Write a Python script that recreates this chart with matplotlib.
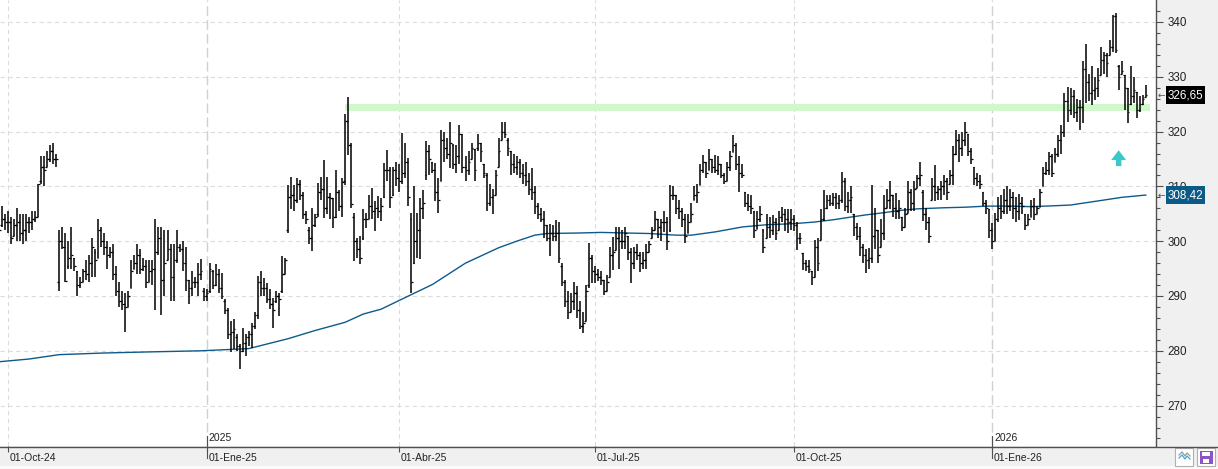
import numpy as np
import pandas as pd
import matplotlib
matplotlib.use("Agg")
import matplotlib.pyplot as plt
import matplotlib.transforms as mtransforms
from matplotlib.collections import LineCollection
from matplotlib.patches import Rectangle, Polygon
from matplotlib.lines import Line2D

plt.rcParams["font.family"] = ["Liberation Sans", "DejaVu Sans"]

# daily bars, first bar on 2024-09-26 (business days)
start_date = "2024-09-26"

high = [
    304.5, 306.5, 305, 305.5, 304.5, 304, 306, 305, 305, 305,
    304.5, 305.5, 305.5, 310.5, 315.5, 315.5, 316.5, 317.5, 318, 316,
    302, 302.5, 301.5, 300, 302.5, 297, 294.5, 293.5, 295, 296.5,
    297.5, 300.5, 298.5, 304, 302.5, 301.5, 300, 299, 299.5, 295.5,
    292.5, 291, 290.5, 291, 296.5, 297.5, 299.5, 298.5, 297, 296.5,
    296.5, 296.5, 304, 302.5, 302.5, 302, 302, 299.5, 299.5, 302,
    299.5, 300, 299, 293, 294.5, 293.5, 296, 296.7, 291.5, 291.2,
    296, 294.8, 295.8, 295, 294.2, 289.4, 287.9, 285.5, 285.8, 283,
    281.2, 284.2, 283, 283.6, 285, 287, 293.6, 294.5, 293.3, 292.4,
    291.2, 289.7, 290.9, 290.6, 297.3, 297, 310.3, 311.8, 310.3, 311.5,
    311.2, 309, 305.5, 302.5, 306, 305, 310.6, 311.8, 314.8, 311.8,
    308.8, 307.9, 313, 309.4, 311.5, 323.3, 326.4, 317.9, 305.2, 300.6,
    300.9, 305.8, 305.2, 308.5, 309.7, 307.3, 308.2, 307.9, 314.2, 316.7,
    313.6, 313.6, 314.5, 314, 319.7, 318, 315.2, 305.2, 310, 305.2,
    307.9, 309.4, 318.2, 317.5, 314.5, 314.2, 311.5, 320.3, 320, 318.8,
    321.8, 317.8, 317.5, 321.2, 319.5, 315.5, 316.5, 318, 316.9, 319.5,
    318, 314, 312.4, 310.5, 309.5, 313, 318.8, 321.8, 321.8, 318.8,
    316.5, 316, 315.5, 315, 314, 314.5, 312.5, 313.3, 310, 307,
    306, 305.5, 303, 303.2, 303, 303.9, 303.5, 296, 293, 290.9,
    290.5, 292.5, 291.8, 289, 287, 292, 299.7, 297.5, 295.5, 295,
    294.5, 293, 293.8, 299, 300.8, 302.6, 302.6, 302, 302.5, 301,
    298.7, 299, 299.5, 298.1, 298, 299.5, 300, 302.5, 305.6, 304,
    304, 305.5, 304.5, 310.2, 310, 308.5, 307.5, 306, 305, 305,
    307, 310, 310.5, 314.1, 315.8, 314.5, 316.8, 315, 315.8, 315.5,
    314, 312.5, 314.5, 316.5, 319.3, 318, 315.5, 314, 309, 308.7,
    308.5, 305.6, 305.5, 306.4, 302.3, 305, 304.5, 304.8, 304.2, 305.5,
    306.2, 305.9, 305.9, 305.9, 304.7, 303.5, 301.5, 297.8, 296.5, 296.5,
    294.5, 300.3, 300.5, 305.8, 309.4, 308.5, 308.5, 308.8, 308.8, 308.5,
    312.7, 311.5, 309, 310, 305, 303.3, 302.5, 299.5, 298.5, 298.8,
    310.3, 306, 302, 304, 308.5, 309.5, 310.9, 308.5, 308.8, 307.5,
    304.5, 306, 310.9, 309.5, 311, 312.1, 314.5, 309.4, 306, 304.5,
    311.5, 313.9, 310, 311, 312, 311.5, 313, 317.3, 320.3, 319.5,
    320, 321.8, 319.5, 317, 313.6, 312.5, 312, 309, 307.5, 305.8,
    303.3, 305.2, 308, 308.5, 309.5, 310, 309.5, 309, 308, 308.7,
    308, 305, 305, 307.5, 307.8, 306.5, 309.6, 313.6, 314.5, 316.3,
    316, 317, 319.4, 321.2, 327, 328.2, 327.9, 327.6, 326, 325.8,
    332.8, 335.9, 330.5, 331.9, 330, 331.6, 335.5, 334.5, 334.3, 336.8,
    341.3, 341.6, 332.2, 332.8, 330.4, 327.9, 331.9, 330, 327.3, 326.5,
    326.7, 328.5,
]

low = [
    300.5, 302.5, 302, 301.5, 299.5, 301, 300, 300, 299.5, 300,
    301.5, 302, 303.5, 304.5, 310.5, 310, 313.5, 314.5, 314, 313.5,
    291, 298.5, 292.5, 295, 295, 294.5, 290, 291.5, 292.5, 293,
    292.5, 293.5, 293.5, 297, 299, 297.5, 295, 297, 293, 290,
    288, 287.5, 283.5, 288, 291.5, 295, 294, 294, 294.5, 291.5,
    292.5, 292, 287.5, 297.5, 286.5, 290, 296.5, 289, 289, 296,
    298, 294.5, 291, 288.5, 290, 291.5, 290, 293, 289, 289,
    290.6, 291.2, 291.8, 290.5, 289.4, 286.7, 282.1, 279.7, 280.3, 280,
    276.7, 279.7, 279.1, 280.8, 280.6, 284, 285.8, 290, 290, 288.8,
    287.6, 284.2, 288.8, 286.4, 290.6, 294, 301.5, 305.8, 305.5, 307,
    307.6, 304, 303.2, 299.4, 298.2, 302.5, 304.5, 307.6, 304.2, 304.9,
    304, 302.4, 304.2, 305.5, 304.5, 310.3, 315.8, 306, 296.4, 297,
    295.8, 300.3, 302.4, 304, 304, 301.8, 304.2, 303.6, 307.9, 310.9,
    306.1, 308.2, 310, 309, 310.5, 311.5, 306.5, 290.6, 295.8, 297,
    296.7, 304, 311.2, 312, 312.5, 307.3, 305.2, 310.9, 314.5, 315,
    313.3, 313.2, 312.5, 314, 312.5, 311, 312, 315, 311, 316.5,
    314.5, 311.5, 305.5, 306.5, 305, 308.5, 313.5, 318.5, 318.8, 315.5,
    312, 312.5, 312, 311.5, 310.5, 310, 308.5, 307.5, 305, 304,
    303.5, 300.5, 300, 297.3, 300, 300, 296, 291.8, 288, 285.8,
    287, 287.5, 286, 284, 283.3, 285.5, 291.5, 292.4, 292.4, 292.8,
    292, 290.2, 291, 293.5, 294.7, 298.4, 295, 298.5, 298.5, 296.5,
    292.3, 295, 296.5, 294.4, 295, 295, 298, 300.5, 302, 300.5,
    300, 301.7, 298.4, 301.7, 307.5, 305, 304, 302.5, 299.6, 301.5,
    303.5, 307.5, 307, 310.2, 312.5, 311.5, 312.9, 312.5, 312.5, 312,
    311.5, 310.5, 311, 312.8, 316.2, 313, 309, 311.5, 306.2, 305.6,
    305, 300.5, 302.3, 303.5, 297.8, 300.5, 300.5, 301.2, 300.3, 302,
    303.5, 301.8, 301.5, 302, 301.8, 298.4, 299.5, 294.7, 294.5, 294.2,
    292, 293.5, 294.5, 300.3, 303.6, 305.8, 306.5, 306.5, 305.8, 305.8,
    307, 305.5, 305.2, 305.2, 301, 300.3, 297.3, 296, 294.2, 295,
    296, 298.5, 296, 299, 300.3, 306, 305.8, 304.5, 304, 304,
    301.8, 302.5, 305.2, 305.5, 305.5, 309.7, 310, 303.6, 302, 299.7,
    307.5, 307.3, 307.5, 307.5, 308.5, 307.5, 310.5, 310.3, 315.8, 314.5,
    315.5, 317.3, 315.5, 314, 310.3, 310, 309.5, 306.5, 305, 300.6,
    298.5, 300, 303.5, 304, 305, 305, 305.5, 304, 303.5, 303.8,
    305, 302, 303, 304.5, 303.8, 305, 306.3, 310, 312.1, 312.1,
    311.8, 314.5, 315.4, 316, 319.1, 321.8, 323, 322.5, 321.8, 320.3,
    321.5, 325.2, 325.5, 324.9, 325.8, 326.4, 330.4, 330.5, 330, 334,
    334.6, 334.3, 327.6, 330.5, 324, 321.5, 324.9, 325.2, 322.4, 323.5,
    324.8, 326.4,
]

open_ = [
    303, 303, 304, 303.5, 303.5, 301, 303, 303.5, 301.5, 302,
    303.5, 303.5, 304, 304.5, 311, 313.5, 313.5, 315, 316.5, 315,
    292.5, 300, 299, 295.5, 297, 297, 294.5, 292, 292.5, 294.5,
    294, 296, 298, 297, 302, 300, 299, 297.5, 298, 294,
    291, 289, 288.5, 288, 291.5, 295, 296, 297.5, 295, 295.5,
    292.5, 294.5, 295, 298, 300.5, 293, 296.5, 298.5, 293.5, 296.5,
    299, 298.5, 296, 293, 291.5, 292.5, 292.5, 294, 291, 290,
    291, 294.5, 292, 294, 291.5, 289, 287.5, 283, 283.5, 282.5,
    280.8, 280, 281.5, 282.5, 283, 284.5, 286.5, 292.5, 291.5, 291.5,
    289.5, 288.5, 289, 290, 291, 294, 302, 308, 308.5, 307.5,
    310.5, 308.5, 305, 302, 300.5, 303, 305, 309, 309.5, 306,
    308, 307.8, 304.5, 309, 306.5, 311, 322, 317.5, 304.5, 300,
    298.5, 300.5, 304, 304, 306.5, 305.5, 306, 305.5, 308, 313,
    313, 308.5, 313, 311.5, 311, 312.5, 314.5, 304, 296, 300,
    302, 306, 312, 316.5, 314.5, 313, 309, 311, 318.5, 317,
    316, 317.5, 314, 315.5, 319.5, 313.5, 313, 315, 316.9, 317,
    318, 314, 312, 307, 308, 308.5, 313.5, 318.5, 320, 318.5,
    316.5, 314, 313.5, 314.5, 312.5, 312, 311, 309.5, 309, 306.5,
    305, 304, 303, 300.5, 301.5, 301, 301.5, 295.5, 292.5, 289,
    287, 289, 290.5, 287.5, 284.5, 285.5, 292, 297, 294.5, 294,
    293.5, 293, 291, 293.5, 297.5, 298.4, 300.5, 300, 300, 301,
    298, 296, 298, 297.5, 296, 296.5, 298, 300.5, 302, 304,
    302.5, 303.5, 303.5, 302, 308.5, 308.5, 306, 305.5, 304, 301.5,
    303.5, 307.5, 308.5, 310.2, 313, 314.5, 312.9, 315, 313.5, 313,
    314, 312, 311, 313.5, 316.2, 317.5, 314, 312.5, 309, 307,
    306.5, 305.6, 302.3, 304, 302, 300.5, 302.5, 302, 303.5, 302,
    304.5, 305, 304, 303.5, 304, 303, 300.5, 297.8, 296, 295.5,
    294.5, 293.5, 299, 300.3, 304, 306, 307.5, 307, 308, 307,
    307.5, 311, 306.5, 307.5, 305, 302.5, 301, 299, 297.5, 296.5,
    297, 301, 302, 299, 301.5, 306, 307.5, 308.5, 306, 305.5,
    304.5, 302.5, 305.2, 309, 307, 309.7, 311.5, 309, 305, 303.5,
    307.5, 310, 309, 309.5, 310, 311, 310.5, 312, 316, 318.5,
    317, 318.5, 319.5, 316.5, 313.6, 311.5, 311, 309, 307, 305.8,
    302, 300, 304, 306, 305.5, 307.5, 306.5, 308, 306, 305.5,
    307, 305, 303, 304.5, 306.5, 305, 306.3, 310, 312.5, 313,
    315.5, 314.5, 316, 318.5, 320, 325.5, 324, 326.5, 323.5, 324.5,
    324.5, 331.5, 329, 327, 327.5, 328, 330.4, 333, 334, 334,
    335.5, 341, 332, 330.5, 330.4, 327.9, 325, 326.5, 327.3, 324,
    325, 326.4,
]

close = [
    302, 304, 303.5, 303.5, 300.5, 303, 303.5, 301.5, 302, 303.5,
    303.5, 304, 304.5, 310.5, 313.5, 313, 315, 316.5, 315, 315,
    300, 299, 292.8, 297, 297.5, 295.5, 292, 292.5, 294.5, 294,
    296, 299, 296.5, 302, 300, 299, 297.5, 298, 294, 291,
    289, 288.5, 288, 290, 294.5, 296, 297.5, 295, 295.5, 292.5,
    294.5, 295, 298, 300.5, 293, 296, 298.5, 293.5, 296.5, 299,
    298.5, 296, 293, 291.5, 292.5, 292.5, 294, 294.5, 290, 290.5,
    295, 292, 294, 291.5, 290, 287.5, 283, 283.5, 284, 280.8,
    280, 281.5, 282.5, 283, 284.5, 286.5, 292.5, 291.5, 291.5, 289.5,
    288.5, 287.5, 290, 289.5, 294, 296.5, 308, 308.5, 307.5, 310.5,
    308.5, 305, 304, 300.5, 303, 304.5, 309, 309.5, 306, 308,
    307.8, 304.5, 309, 306.5, 310.8, 322, 317.5, 306.7, 300, 298.5,
    297, 304, 304, 306.5, 305.5, 306, 305.5, 306.5, 313, 313,
    308, 313, 311.5, 311, 312.5, 314.5, 308, 292.5, 300, 302,
    306, 307, 316.5, 315, 313, 309, 307.5, 318.5, 317, 316,
    318, 314, 315.5, 319.5, 313.5, 313, 314.5, 317, 313, 318,
    316.5, 312.5, 307, 308, 308.5, 312, 316.5, 320, 319.5, 317,
    314, 313.5, 314.5, 312.5, 312, 311, 309.5, 309, 306.5, 305,
    304, 303, 300.5, 301.5, 301, 301.5, 297, 292.5, 289, 287,
    289, 290.5, 287.5, 284.5, 285, 291, 297, 294.5, 294, 293.5,
    293, 291, 292.5, 297.5, 298, 300.5, 300, 300, 301.5, 298,
    296, 298, 297.5, 296, 296.5, 298, 299.5, 302, 304, 302.5,
    303.5, 303.5, 300, 308.5, 308.5, 306, 305.5, 304, 301, 303.5,
    305, 308.5, 309, 313, 314.5, 312.5, 315, 313.5, 313, 314,
    312, 311, 313.5, 315.5, 317.5, 314, 312.5, 312, 307, 306.5,
    306, 302, 304, 305, 299, 302.5, 302, 303.5, 301.5, 304.5,
    305, 304, 303.5, 304, 303, 300.5, 300.5, 296, 295.5, 295,
    293.5, 299, 296, 304, 306, 307.5, 307, 308, 307, 307.5,
    311, 306.5, 307.5, 308, 302.5, 301, 299, 297.5, 296.5, 297,
    301, 302, 297.5, 301.5, 306, 307.5, 308.5, 306, 305.5, 306,
    302.5, 305, 309, 307, 309.5, 311.5, 312, 305, 303.5, 301,
    310, 309, 309.5, 310, 311, 309, 312, 316, 318.5, 317,
    318.5, 320, 316.5, 315, 311.5, 311, 310.5, 307, 306, 302,
    300, 304, 306, 305.5, 307.5, 306.5, 308, 306, 305.5, 307,
    306.5, 303, 304, 306.5, 305, 306, 309, 312.5, 313, 315.5,
    312.5, 316, 318.5, 320, 325.5, 324, 326.5, 323.5, 324.5, 324.5,
    331.5, 329, 327, 327.5, 328, 329.5, 333, 334, 332.5, 335.5,
    341, 334.8, 330, 331, 328, 323.5, 326.5, 327.5, 324, 325,
    326, 326.65,
]

# moving average, read at these bar numbers
ma_idx = [0, 10, 20, 35, 50, 67, 83, 96, 105, 115, 121, 127, 133, 144, 155,
          166, 172, 178, 182, 193, 200, 216, 225, 230, 238, 247, 255, 264,
          271, 277, 283, 288, 294, 299, 305, 314, 321, 328, 336, 343, 352,
          356, 367, 373, 381]
ma_val = [278.0, 278.5, 279.3, 279.6, 279.8, 280.0, 280.4, 282.2, 283.7,
          285.2, 286.7, 287.6, 289.2, 292.1, 296.0, 298.8, 300.0, 301.1,
          301.4, 301.5, 301.6, 301.4, 301.1, 301.1, 301.7, 302.6, 303.0,
          303.2, 303.5, 303.9, 304.4, 304.8, 305.2, 305.6, 305.9, 306.1,
          306.2, 306.4, 306.4, 306.3, 306.5, 306.6, 307.5, 308.0, 308.42]

# resistance band and signal arrow
band_start = 115
band_lo, band_hi = 323.8, 325.1
arrow_bar, arrow_tip = 372, 316.6

y_ticks = [270, 280, 290, 300, 310, 320, 330, 340]
month_labels = ["01-Oct-24", "01-Ene-25", "01-Abr-25", "01-Jul-25",
                "01-Oct-25", "01-Ene-26"]
year_labels = ["2025", "2026"]

n = min(len(high), len(low), len(open_), len(close))
dates = pd.bdate_range(start_date, periods=n)
month_pos = [i for i in range(1, n) if dates[i].month != dates[i - 1].month
             and dates[i].month in (1, 4, 7, 10)]
year_pos = [i for i in month_pos if dates[i].month == 1]

W, H = 1218, 469
fig = plt.figure(figsize=(W / 100, H / 100), dpi=100, facecolor="#f0f0f0")
ax = fig.add_axes([0, 1 - 446 / H, 1156 / W, 446 / H])
ax.set_facecolor("white")
ax.set_xlim(0.35, 384.4)
ax.set_ylim(262.63, 344.01)

# grid
for v in y_ticks:
    ax.axhline(v, color="#dcdcdc", lw=0.8, ls=(0, (4, 3)), zorder=0.5)
for i in month_pos:
    if i in year_pos:
        ax.axvline(i, color="#d0d0d0", lw=1.0, ls=(0, (7, 3)), zorder=0.5)
    else:
        ax.axvline(i, color="#dcdcdc", lw=0.8, ls=(0, (4, 3)), zorder=0.5)

# band
ax.fill_between([band_start, n + 0.3], band_lo, band_hi, color="#d0f8cc",
                lw=0, zorder=1)

# moving average
ax.plot(ma_idx, ma_val, color="#0e5a8a", lw=1.0, zorder=2)

# OHLC bars
vert = [[(i, low[i]), (i, high[i])] for i in range(n)]
otk = [[(i - 0.55, open_[i]), (i, open_[i])] for i in range(n)]
ctk = [[(i, close[i]), (i + 0.55, close[i])] for i in range(n)]
ax.add_collection(LineCollection(vert, colors="black", linewidths=1.1, zorder=3))
ax.add_collection(LineCollection(otk + ctk, colors="black", linewidths=0.9, zorder=3))

# arrow
hw, sw, hh, sh = 2.5, 0.9, 1.8, 1.1
arrow = Polygon([(arrow_bar, arrow_tip), (arrow_bar + hw, arrow_tip - hh),
                 (arrow_bar + sw, arrow_tip - hh), (arrow_bar + sw, arrow_tip - hh - sh),
                 (arrow_bar - sw, arrow_tip - hh - sh), (arrow_bar - sw, arrow_tip - hh),
                 (arrow_bar - hw, arrow_tip - hh)], closed=True,
                facecolor="#3cc7c9", edgecolor="none", zorder=4)
ax.add_patch(arrow)

# axes styling
for s in ["top", "left", "bottom"]:
    ax.spines[s].set_visible(False)
ax.spines["right"].set_color("#505050")
ax.spines["right"].set_linewidth(1.0)

ax.yaxis.tick_right()
ax.set_yticks(y_ticks)
ax.set_yticks(np.arange(264, 344, 2), minor=True)
ax.tick_params(axis="y", which="major", length=5, width=0.8, color="#505050",
               pad=3.2, labelsize=8.4, labelcolor="#222222")
ax.tick_params(axis="y", which="minor", length=2.8, width=0.8, color="#505050")

ax.set_xticks(month_pos)
ax.set_xticklabels([])
ax.tick_params(axis="x", which="major", length=4, width=0.8, color="#505050")

trans = mtransforms.blended_transform_factory(ax.transData, ax.transAxes)
for i, lab in zip(month_pos, month_labels):
    ax.text(i + 0.6, -0.027, lab, transform=trans, ha="left", va="center",
            fontsize=7.5, color="#222222", clip_on=False)
for i, lab in zip(year_pos, year_labels):
    ax.text(i + 0.6, 0.018, lab, transform=trans, ha="left", va="center",
            fontsize=7.5, color="#222222", clip_on=False)
    ax.add_line(Line2D([i, i], [-0.027, 0.022], transform=trans, color="#505050",
                       lw=0.8, clip_on=False, zorder=5))

# full-width bottom axis line
fig.add_artist(Line2D([0, 1], [1 - 446.5 / H, 1 - 446.5 / H], transform=fig.transFigure,
                      color="#505050", lw=1.0))
fig.add_artist(Rectangle((0, 0), 1, 3 / H, transform=fig.transFigure,
                         facecolor="#fafafa", edgecolor="none"))

# last-value labels
ytrans = mtransforms.blended_transform_factory(ax.transAxes, ax.transData)
for val, col in [(close[-1], "black"), (ma_val[-1], "#0b5a87")]:
    hgt = 18 / 5.48
    ax.add_patch(Rectangle((1166 / 1156, val - hgt / 2), 39 / 1156, hgt,
                           transform=ytrans, facecolor=col, edgecolor="none",
                           clip_on=False, zorder=6))
    ax.text(1185.5 / 1156, val, f"{val:.2f}".replace(".", ","), transform=ytrans,
            ha="center", va="center", fontsize=8.4, color="white",
            clip_on=False, zorder=7)
    ax.text(1161.5 / 1156, val, "\u2190", transform=ytrans, ha="center",
            va="center", fontsize=6.5, color="#555555", clip_on=False,
            family=["DejaVu Sans"], zorder=7)

# bottom-right buttons
def px(xp, yp):
    return xp / W, 1 - yp / H

b1 = Rectangle(px(1175, 466), 18 / W, 18 / H, transform=fig.transFigure,
               facecolor="white", edgecolor="#b0b0b0", lw=0.8)
b2 = Rectangle(px(1197, 466), 18 / W, 18 / H, transform=fig.transFigure,
               facecolor="white", edgecolor="#b0b0b0", lw=0.8)
fig.add_artist(b1)
fig.add_artist(b2)
zx = [1179, 1182, 1185, 1187, 1190]
fig.add_artist(Line2D([px(v, 0)[0] for v in zx],
                      [px(0, v)[1] for v in [455, 452, 456, 453, 456]],
                      transform=fig.transFigure, color="#999999", lw=0.9))
fig.add_artist(Line2D([px(v, 0)[0] for v in zx],
                      [px(0, v)[1] for v in [458, 455, 459, 456, 459]],
                      transform=fig.transFigure, color="#4aa3df", lw=0.9))
fig.add_artist(Rectangle(px(1199.5, 464), 13 / W, 13 / H, transform=fig.transFigure,
                         facecolor="#8b55c8", edgecolor="none"))
fig.add_artist(Rectangle(px(1202, 456), 8 / W, 4 / H, transform=fig.transFigure,
                         facecolor="white", edgecolor="none"))
fig.add_artist(Rectangle(px(1203, 463), 6 / W, 4 / H, transform=fig.transFigure,
                         facecolor="white", edgecolor="none"))

fig.savefig("out.png", dpi=100, facecolor=fig.get_facecolor())
